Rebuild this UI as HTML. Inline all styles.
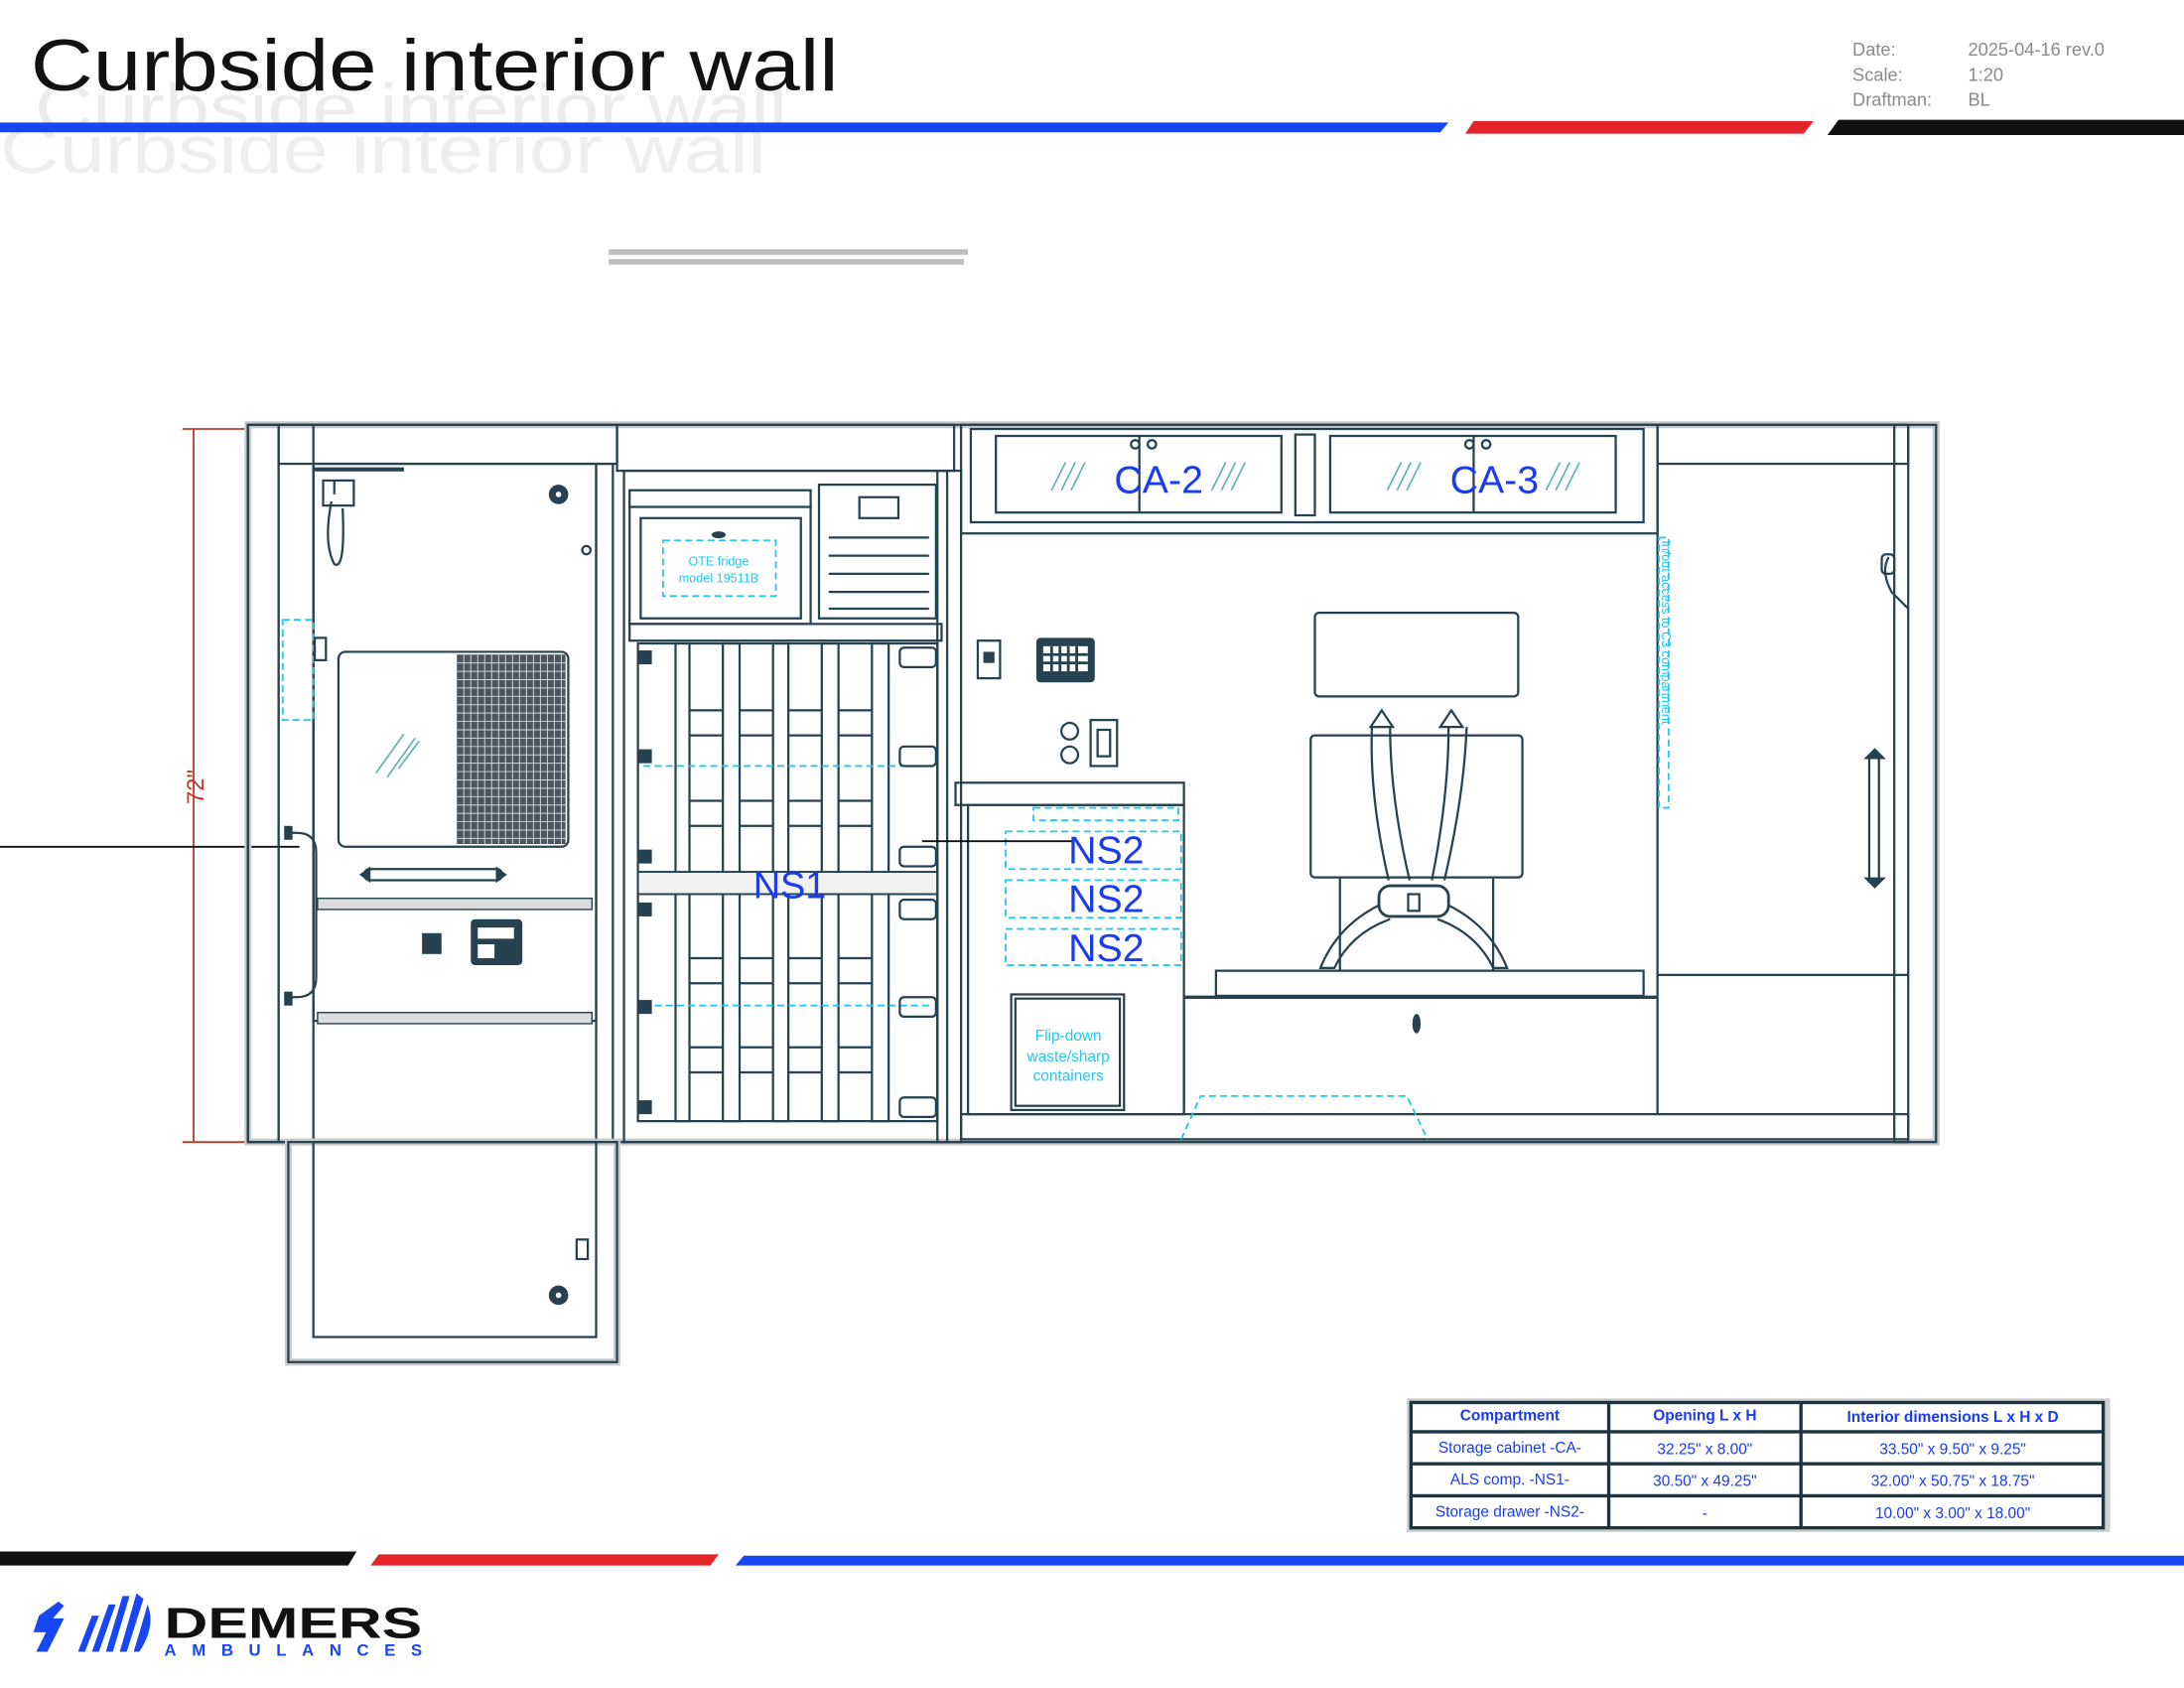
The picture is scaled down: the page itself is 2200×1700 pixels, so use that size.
<!DOCTYPE html>
<html><head><meta charset="utf-8"><style>
html,body{margin:0;padding:0;background:#fff;}
svg{display:block;}
.s{fill:none;stroke:#26414f;stroke-width:1.6}
.g{fill:#fff;stroke:#26414f;stroke-width:1.6}
.sh{fill:none;stroke:#c9c9c9;stroke-width:5}
.c{fill:none;stroke:#22c8f0;stroke-width:1.3;stroke-dasharray:5 3}
.b{fill:#1a3bf0;font-family:"Liberation Sans",sans-serif}
.t{fill:#1a3bf0;font-family:"Liberation Sans Narrow","Liberation Sans",sans-serif;font-size:11px;text-anchor:middle}
.ct{fill:#22c8f0;font-family:"Liberation Sans",sans-serif;text-anchor:middle}
</style></head><body>
<svg width="2200" height="1700" viewBox="0 0 1568 1212" preserveAspectRatio="none" xmlns="http://www.w3.org/2000/svg">
<!-- header ghosts -->
<text x="25" y="94" font-family="Liberation Sans,sans-serif" font-size="48" fill="#ececec" textLength="540" lengthAdjust="spacingAndGlyphs">Curbside interior wall</text>
<text x="0" y="124" font-family="Liberation Sans,sans-serif" font-size="48" fill="#eeeeee" textLength="550" lengthAdjust="spacingAndGlyphs">Curbside interior wall</text>
<rect x="437" y="179" width="258" height="4" fill="#bdbdbd"/><rect x="437" y="186" width="255" height="4" fill="#bdbdbd"/>
<text x="22" y="65" font-family="Liberation Sans,sans-serif" font-size="52" fill="#111" textLength="580" lengthAdjust="spacingAndGlyphs">Curbside interior wall</text>
<!-- top stripes -->
<polygon points="0,88 1040,88 1034,95 0,95" fill="#1747f5"/>
<polygon points="1058,87 1302,87 1295,96 1052,96" fill="#e3242b"/>
<polygon points="1320,86 1568,86 1568,97 1312,97" fill="#111"/>
<g font-family="Liberation Sans,sans-serif" font-size="13" fill="#8a8a8a">
<text x="1330" y="40">Date:</text><text x="1413" y="40">2025-04-16 rev.0</text>
<text x="1330" y="58">Scale:</text><text x="1413" y="58">1:20</text>
<text x="1330" y="76">Draftman:</text><text x="1413" y="76">BL</text>
</g>
<!-- dimension -->
<line x1="139" y1="308" x2="139" y2="820" stroke="#c0392b" stroke-width="1.3"/>
<line x1="131" y1="308" x2="178" y2="308" stroke="#c0392b" stroke-width="1.3"/>
<line x1="131" y1="820" x2="178" y2="820" stroke="#c0392b" stroke-width="1.3"/>
<text transform="translate(146,565) rotate(-90)" font-family="Liberation Sans,sans-serif" font-size="17" fill="#c0392b" text-anchor="middle">72"</text>
<line x1="0" y1="608" x2="215" y2="608" stroke="#111" stroke-width="1.3"/>
<!-- main frame -->
<rect x="178" y="305" width="1212" height="515" class="sh"/>
<rect x="178" y="305" width="1212" height="515" class="s"/>
<!-- left column -->
<rect x="178" y="305" width="22" height="515" class="s"/><rect x="200" y="305" width="25" height="515" class="s"/>
<rect x="200" y="305" width="243" height="28" class="s"/>
<rect x="225" y="333" width="203" height="400" class="s"/>
<rect x="428" y="333" width="12" height="487" class="s"/>
<line x1="225" y1="337" x2="290" y2="337" stroke="#26414f" stroke-width="3"/>
<path d="M240 345 v10 M238 360 q-6 30 2 45 q8 5 6 -40" class="s"/>
<rect x="232" y="345" width="22" height="18" class="s"/>
<circle cx="401" cy="355" r="7" fill="#26414f"/><circle cx="401" cy="355" r="2" fill="#fff"/>
<circle cx="421" cy="395" r="3" class="s"/>
<rect x="203" y="445" width="22" height="72" class="c"/>
<rect x="226" y="458" width="8" height="16" class="s"/>
<rect x="243" y="468" width="165" height="140" rx="5" class="g"/>
<rect x="328" y="470" width="78" height="136" fill="#4a5560"/>
<g stroke="#cfd6dc" stroke-width="0.7">
<path d="M333 470v136M338 470v136M343 470v136M348 470v136M353 470v136M358 470v136M363 470v136M368 470v136M373 470v136M378 470v136M383 470v136M388 470v136M393 470v136M398 470v136M403 470v136"/>
<path d="M328 476h78M328 482h78M328 488h78M328 494h78M328 500h78M328 506h78M328 512h78M328 518h78M328 524h78M328 530h78M328 536h78M328 542h78M328 548h78M328 554h78M328 560h78M328 566h78M328 572h78M328 578h78M328 584h78M328 590h78M328 596h78M328 602h78"/>
</g>
<path d="M270 555 l20 -28 M278 558 l20 -28 M286 552 l15 -20" stroke="#5fb3b0" stroke-width="1.2"/>
<rect x="262" y="624" width="98" height="8" rx="3" class="s"/>
<path d="M258 628 l8 -6 v12z M364 628 l-8 -6 v12z" fill="#26414f"/>
<path d="M208 598 h5 q14 0 14 14 v90 q0 14 -14 14 h-5" class="s"/>
<rect x="204" y="593" width="6" height="10" fill="#26414f"/><rect x="204" y="712" width="6" height="10" fill="#26414f"/>
<rect x="228" y="645" width="197" height="8" fill="#ddd" stroke="#26414f" stroke-width="1"/>
<rect x="303" y="670" width="14" height="15" fill="#26414f"/>
<rect x="338" y="660" width="37" height="33" rx="3" fill="#26414f"/><rect x="343" y="666" width="26" height="8" fill="#fff"/><rect x="343" y="678" width="12" height="10" fill="#fff"/>
<rect x="228" y="727" width="197" height="8" fill="#ddd" stroke="#26414f" stroke-width="1"/>
<line x1="228" y1="820" x2="428" y2="820" class="c"/>
<!-- lower door extension -->
<rect x="207" y="820" width="236" height="158" class="sh"/>
<rect x="207" y="820" width="236" height="158" class="s"/>
<rect x="225" y="820" width="203" height="140" class="s"/>
<circle cx="401" cy="930" r="7" fill="#26414f"/><circle cx="401" cy="930" r="2" fill="#fff"/>
<rect x="414" y="890" width="8" height="14" class="s"/>
<!-- middle column -->
<rect x="443" y="305" width="242" height="33" class="s"/>
<rect x="448" y="338" width="232" height="482" class="s"/>
<rect x="452" y="352" width="130" height="12" class="s"/>
<rect x="452" y="364" width="130" height="84" class="g"/>
<rect x="460" y="372" width="115" height="72" class="s"/>
<rect x="476" y="388" width="81" height="40" class="c"/>
<text x="516" y="406" class="ct" font-size="9">OTE fridge</text><text x="516" y="418" class="ct" font-size="9">model 19511B</text>
<ellipse cx="516" cy="384" rx="5" ry="2.5" fill="#26414f"/>
<rect x="588" y="348" width="84" height="96" class="s"/>
<rect x="617" y="357" width="28" height="15" class="s"/>
<g class="s"><path d="M595 386h72M595 399h72M595 412h72M595 425h72M595 437h72"/></g>
<rect x="452" y="448" width="224" height="12" class="s"/>
<!-- rack -->
<rect x="458" y="462" width="215" height="343" class="s"/>
<g class="s">
<rect x="485" y="462" width="10" height="343"/><rect x="519" y="462" width="12" height="343"/><rect x="555" y="462" width="11" height="343"/><rect x="590" y="462" width="12" height="343"/><rect x="626" y="462" width="12" height="343"/>
<path d="M495 510h24M531 510h24M566 510h24M602 510h24M495 528h24M531 528h24M566 528h24M602 528h24M495 575h24M531 575h24M566 575h24M602 575h24M495 593h24M531 593h24M566 593h24M602 593h24"/>
<path d="M495 688h24M531 688h24M566 688h24M602 688h24M495 706h24M531 706h24M566 706h24M602 706h24M495 752h24M531 752h24M566 752h24M602 752h24M495 770h24M531 770h24M566 770h24M602 770h24"/>
</g>
<rect x="458" y="626" width="215" height="16" fill="#f2f2f2" stroke="#26414f" stroke-width="1.4"/>
<line x1="462" y1="550" x2="670" y2="550" class="c"/><line x1="462" y1="722" x2="670" y2="722" class="c"/>
<g fill="#26414f">
<rect x="458" y="467" width="10" height="10"/><rect x="458" y="538" width="10" height="10"/><rect x="458" y="610" width="10" height="10"/><rect x="458" y="648" width="10" height="10"/><rect x="458" y="718" width="10" height="10"/><rect x="458" y="790" width="10" height="10"/>
</g>
<g class="s">
<rect x="646" y="465" width="26" height="14" rx="3"/><rect x="646" y="536" width="26" height="14" rx="3"/><rect x="646" y="608" width="26" height="14" rx="3"/><rect x="646" y="646" width="26" height="14" rx="3"/><rect x="646" y="716" width="26" height="14" rx="3"/><rect x="646" y="788" width="26" height="14" rx="3"/>
</g>
<text x="567" y="645" class="b" font-size="27" text-anchor="middle">NS1</text>
<rect x="673" y="338" width="17" height="482" class="s"/>
<!-- right section -->
<rect x="690" y="305" width="500" height="78" class="s"/>
<rect x="697" y="308" width="483" height="67" class="s"/>
<rect x="715" y="313" width="205" height="55" class="g"/><rect x="955" y="313" width="205" height="55" class="g"/>
<rect x="930" y="312" width="14" height="58" class="s"/>
<line x1="818" y1="313" x2="818" y2="368" class="s"/><line x1="1058" y1="313" x2="1058" y2="368" class="s"/>
<circle cx="815" cy="319" r="3" class="s"/><circle cx="827" cy="319" r="3" class="s"/><circle cx="1055" cy="319" r="3" class="s"/><circle cx="1067" cy="319" r="3" class="s"/>
<path d="M755 352l10-20M762 352l10-20M769 352l10-20M870 352l10-20M877 352l10-20M884 352l10-20M996 352l10-20M1003 352l10-20M1010 352l10-20M1110 352l10-20M1117 352l10-20M1124 352l10-20" stroke="#5fb3b0" stroke-width="1.2"/>
<text x="800" y="354" class="b" font-size="28">CA-2</text><text x="1041" y="354" class="b" font-size="28">CA-3</text>
<rect x="1190" y="305" width="180" height="28" class="s"/>
<line x1="1190" y1="333" x2="1190" y2="800" class="s"/>
<rect x="1360" y="305" width="10" height="515" class="s"/>
<line x1="1190" y1="700" x2="1370" y2="700" class="s"/>
<path d="M1356 400 q-6 10 2 25 l12 12" class="s"/><rect x="1351" y="398" width="9" height="14" rx="3" class="s"/>
<rect x="1342" y="543" width="7" height="90" class="s"/>
<path d="M1338 545 l8 -8 l8 8z M1338 630 l8 8 l8 -8z" fill="#26414f"/>
<rect x="1191" y="386" width="7" height="194" class="c"/>
<text transform="translate(1193,388) rotate(90)" font-family="Liberation Sans,sans-serif" font-size="9" fill="#22c8f0">In/out access to C3 compartment</text>
<rect x="702" y="460" width="16" height="27" class="s"/><rect x="706" y="468" width="8" height="8" fill="#26414f"/>
<rect x="744" y="458" width="42" height="32" rx="3" fill="#26414f"/><rect x="749" y="464" width="32" height="18" fill="#fff"/>
<g stroke="#26414f" stroke-width="2"><path d="M749 470h32M749 476h32M755 464v18M761 464v18M767 464v18M773 464v18"/></g>
<circle cx="768" cy="525" r="6" class="s"/><circle cx="768" cy="542" r="6" class="s"/>
<rect x="783" y="517" width="19" height="33" class="s"/><rect x="788" y="524" width="9" height="19" class="s"/>
<!-- lower left cabinet -->
<rect x="686" y="562" width="164" height="16" class="s"/>
<rect x="695" y="578" width="155" height="222" class="s"/>
<rect x="742" y="580" width="104" height="9" class="c"/>
<rect x="722" y="597" width="126" height="27" class="c"/><rect x="722" y="632" width="126" height="27" class="c"/><rect x="722" y="667" width="126" height="26" class="c"/>
<line x1="662" y1="604" x2="770" y2="604" stroke="#111" stroke-width="1.3"/>
<g class="b" font-size="28"><text x="767" y="620">NS2</text><text x="767" y="655">NS2</text><text x="767" y="690">NS2</text></g>
<rect x="726" y="714" width="81" height="83" class="s"/><rect x="729" y="717" width="75" height="77" class="s"/>
<g class="ct" font-size="11"><text x="767" y="747">Flip-down</text><text x="767" y="762">waste/sharp</text><text x="767" y="776">containers</text></g>
<!-- seat -->
<rect x="944" y="440" width="146" height="60" rx="3" class="s"/>
<rect x="941" y="528" width="152" height="102" rx="3" class="s"/>
<path d="M985 522 q-2 50 12 110 M998 522 q0 50 14 110 M1040 522 q0 50 -12 110 M1053 522 q-2 50 -16 110" class="s"/>
<path d="M984 522 l8 -12 l8 12z M1034 522 l8 -12 l8 12z" class="g"/>
<path d="M990 650 q-30 15 -42 45 h10 q12 -25 40 -35 M1040 650 q30 15 42 45 h-10 q-12 -25 -40 -35" class="s"/>
<rect x="990" y="636" width="50" height="22" rx="8" fill="#fff" stroke="#26414f" stroke-width="2"/>
<rect x="1011" y="642" width="8" height="12" class="s"/>
<line x1="962" y1="630" x2="962" y2="697" class="s"/><line x1="1072" y1="630" x2="1072" y2="697" class="s"/>
<rect x="873" y="697" width="307" height="18" class="s"/>
<line x1="850" y1="716" x2="1190" y2="716" stroke="#26414f" stroke-width="2.4"/>
<line x1="850" y1="716" x2="850" y2="800" class="s"/>
<ellipse cx="1017" cy="735" rx="3" ry="7" fill="#26414f"/>
<!-- floor -->
<rect x="690" y="800" width="680" height="18" class="s"/>
<path d="M848 818 L862 787 H1010 L1025 818" class="c"/>
<!-- table -->
<rect x="1010" y="1004" width="505" height="96" fill="#d0d0d0"/>
<g stroke="#1c3540" stroke-width="2.4" fill="#fff">
<rect x="1013" y="1007" width="497" height="90"/>
</g>
<g stroke="#1c3540" stroke-width="2.4">
<line x1="1155" y1="1007" x2="1155" y2="1097"/><line x1="1293" y1="1007" x2="1293" y2="1097"/>
<line x1="1013" y1="1028" x2="1510" y2="1028"/><line x1="1013" y1="1051" x2="1510" y2="1051"/><line x1="1013" y1="1074" x2="1510" y2="1074"/>
</g>
<g class="t">
<text x="1084" y="1020" font-weight="bold">Compartment</text><text x="1224" y="1020" font-weight="bold">Opening  L x H</text><text x="1402" y="1021" font-weight="bold">Interior dimensions L x H x D</text>
<text x="1084" y="1043">Storage cabinet -CA-</text><text x="1224" y="1044">32.25" x 8.00"</text><text x="1402" y="1044">33.50" x 9.50" x 9.25"</text>
<text x="1084" y="1066">ALS comp. -NS1-</text><text x="1224" y="1067">30.50" x 49.25"</text><text x="1402" y="1067">32.00" x 50.75" x 18.75"</text>
<text x="1084" y="1089">Storage drawer -NS2-</text><text x="1224" y="1090">-</text><text x="1402" y="1090">10.00" x 3.00" x 18.00"</text>
</g>
<!-- bottom stripes -->
<polygon points="0,1114 256,1114 250,1124 0,1124" fill="#111"/>
<polygon points="272,1116 516,1116 510,1124 266,1124" fill="#e3242b"/>
<polygon points="534,1117 1568,1117 1568,1124 528,1124" fill="#1747f5"/>
<!-- logo -->
<g fill="#1747f5">
<polygon points="28,1160 42,1150 46,1153 38,1162 46,1162 34,1186 26,1186 33,1172 24,1172"/>
<polygon points="56,1186 66,1160 71,1160 61,1186"/><polygon points="66,1186 78,1152 83,1152 71,1186"/><polygon points="76,1186 88,1146 93,1146 81,1186"/><polygon points="86,1186 98,1144 103,1148 91,1186"/>
<path d="M96 1186 L106 1152 Q112 1168 100 1186z"/>
</g>
<text x="118" y="1176" font-family="Liberation Sans,sans-serif" font-weight="bold" font-size="31" fill="#111" textLength="185" lengthAdjust="spacingAndGlyphs">DEMERS</text>
<text x="118" y="1189" font-family="Liberation Sans,sans-serif" font-weight="bold" font-size="12" fill="#1747f5" textLength="185" lengthAdjust="spacing">AMBULANCES</text>
</svg>
</body></html>
